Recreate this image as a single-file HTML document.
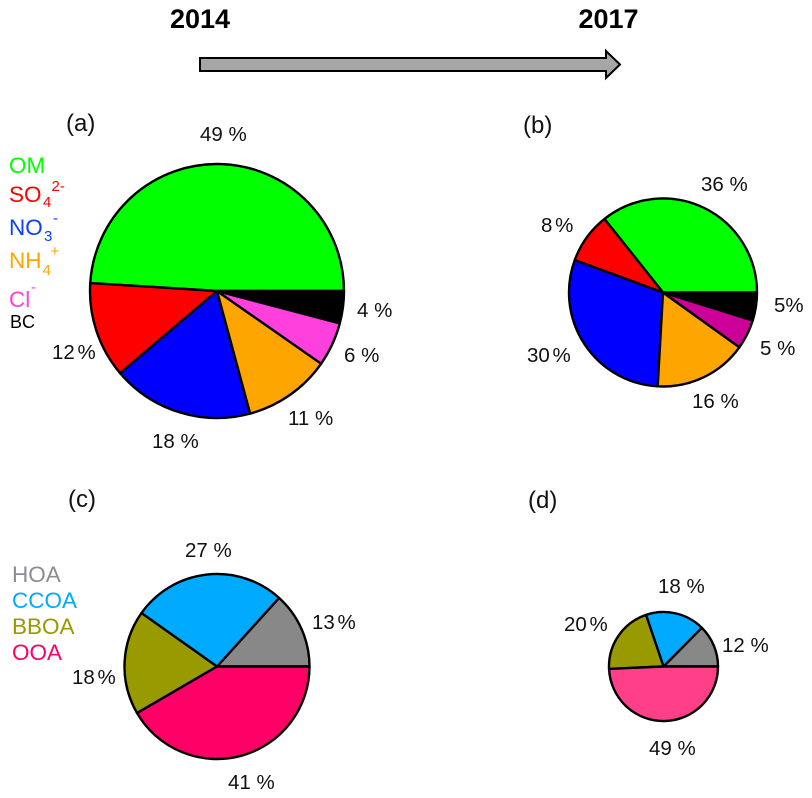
<!DOCTYPE html>
<html lang="en">
<head>
<meta charset="utf-8">
<title>Aerosol composition pie charts, 2014 to 2017</title>
<style>
  html, body { margin: 0; padding: 0; background: #fff; }
  svg { display: block; }
  text { font-family: "Liberation Sans", Arial, sans-serif; fill: #111; }
  .pct { font-size: 20.5px; }
  .tight { word-spacing: -3px; }
  .panel { font-size: 24px; }
  .year { font-size: 27px; font-weight: bold; fill: #000; }
  .lg { font-size: 22.5px; }
  .lgs { font-size: 15px; }
</style>
</head>
<body>
<svg id="chart" width="812" height="798" viewBox="0 0 812 798" xmlns="http://www.w3.org/2000/svg">
  <rect width="812" height="798" fill="#fff"/>

  <text class="year" x="170" y="28">2014</text>
  <text class="year" x="578.5" y="28">2017</text>
  <polygon points="200,58 606,58 606,51 620,64.5 606,78 606,71 200,71" fill="#a6a6a6" stroke="#000" stroke-width="2"/>

  <g id="pies"></g>

  <text class="panel" x="66" y="131">(a)</text>
  <text class="panel" x="523" y="133">(b)</text>
  <text class="panel" x="68" y="507">(c)</text>
  <text class="panel" x="528" y="508">(d)</text>

  <g>
    <text class="lg" x="9" y="173" style="fill:#00ff00">OM</text>
    <g>
      <text class="lg" x="9" y="202" style="fill:#ff0000">SO</text>
      <text class="lgs" x="43" y="207" style="fill:#ff0000">4</text>
      <text class="lgs" x="51.5" y="191" style="fill:#ff0000">2-</text>
    </g>
    <g>
      <text class="lg" x="9" y="235" style="fill:#0a40ff">NO</text>
      <text class="lgs" x="44" y="241" style="fill:#0a40ff">3</text>
      <text class="lgs" x="53" y="223" style="fill:#0a40ff">-</text>
    </g>
    <g>
      <text class="lg" x="9" y="268" style="fill:#ffa500">NH</text>
      <text class="lgs" x="42.5" y="275" style="fill:#ffa500">4</text>
      <text class="lgs" x="50.5" y="256" style="fill:#ffa500">+</text>
    </g>
    <g>
      <text class="lg" x="9" y="307" style="fill:#ff40dd">Cl</text>
      <text class="lgs" x="31" y="292" style="fill:#ff40dd">-</text>
    </g>
    <text x="10" y="328" style="font-size:18px;fill:#000">BC</text>
  </g>

  <g>
    <text class="lg" x="12" y="582" style="fill:#8c8c94">HOA</text>
    <text class="lg" x="12" y="608" style="fill:#00aaff">CCOA</text>
    <text class="lg" x="12" y="634" style="fill:#999900">BBOA</text>
    <text class="lg" x="12" y="660" style="fill:#ff0066">OOA</text>
  </g>

  <g>
    <text class="pct" x="200" y="141">49 %</text>
    <text class="pct" x="357" y="317">4 %</text>
    <text class="pct" x="344" y="362">6 %</text>
    <text class="pct" x="288" y="425">11 %</text>
    <text class="pct" x="152" y="448">18 %</text>
    <text class="pct tight" x="52" y="359">12 %</text>
  </g>
  <g>
    <text class="pct" x="701" y="191">36 %</text>
    <text class="pct tight" x="541" y="232">8 %</text>
    <text class="pct" x="774" y="312">5%</text>
    <text class="pct" x="760" y="355">5 %</text>
    <text class="pct" x="692" y="408">16 %</text>
    <text class="pct tight" x="527" y="362">30 %</text>
  </g>
  <g>
    <text class="pct" x="185" y="557">27 %</text>
    <text class="pct tight" x="312" y="629">13 %</text>
    <text class="pct tight" x="72" y="684">18 %</text>
    <text class="pct" x="228" y="789">41 %</text>
  </g>
  <g>
    <text class="pct" x="658" y="593">18 %</text>
    <text class="pct tight" x="564" y="631">20 %</text>
    <text class="pct" x="722" y="652">12 %</text>
    <text class="pct" x="649" y="755">49 %</text>
  </g>
</svg>

<script>
// Series values (percent), anticlockwise from due east.
const inorganicCategories = ['om', 'so4', 'no3', 'nh4', 'cl', 'bc'];
const organicCategories = ['hoa', 'ccoa', 'bboa', 'ooa'];
const valuesA = [49, 12.2, 18, 11.1, 5.6, 4.1];
const valuesB = [35.7, 8.7, 29.7, 16, 5.1, 4.8];
const valuesC = [13.3, 26.9, 18.2, 41.6];
const valuesD = [12.6, 17.6, 20.5, 49.3];

function angleScale(values) {
  const total = values.reduce(function (a, b) { return a + b; }, 0);
  return function (v) { return v / total * 2 * Math.PI; };
}
function polar(p, angle) {
  return [p.cx + p.r * Math.cos(angle), p.cy - p.r * Math.sin(angle)];
}
function slicePath(p, a0, a1) {
  const s = polar(p, a0), e = polar(p, a1);
  const large = (a1 - a0) > Math.PI ? 1 : 0;
  return 'M' + p.cx + ' ' + p.cy + 'L' + s[0].toFixed(2) + ' ' + s[1].toFixed(2) +
         'A' + p.r + ' ' + p.r + ' 0 ' + large + ' 0 ' + e[0].toFixed(2) + ' ' + e[1].toFixed(2) + 'Z';
}

const SVG_NS = 'http://www.w3.org/2000/svg';
const piesGroup = document.getElementById('pies');

function drawPie(p) {
  const g = document.createElementNS(SVG_NS, 'g');
  
  
  const scale = angleScale(p.values);
  let start = 0;
  p.values.forEach(function (v, i) {
    const end = start + scale(v);
    const path = document.createElementNS(SVG_NS, 'path');
    path.setAttribute('d', slicePath(p, start, end));
    path.setAttribute('fill', p.colors[i]);
    path.setAttribute('stroke', '#000');
    path.setAttribute('stroke-width', '2.4');
    path.setAttribute('stroke-linejoin', 'round');
    
    
    g.appendChild(path);
    start = end;
  });
  piesGroup.appendChild(g);
}

drawPie({ id: 'a', cx: 217, cy: 291, r: 127, values: valuesA, categories: inorganicCategories,
          colors: ['#00ff00', '#ff0000', '#0000ff', '#ffa500', '#ff40dd', '#000000'] });
drawPie({ id: 'b', cx: 663, cy: 292.5, r: 94, values: valuesB, categories: inorganicCategories,
          colors: ['#00ff00', '#ff0000', '#0000ff', '#ffa500', '#cc0099', '#000000'] });
drawPie({ id: 'c', cx: 217, cy: 666.5, r: 92.5, values: valuesC, categories: organicCategories,
          colors: ['#888888', '#00aaff', '#999900', '#ff0066'] });
drawPie({ id: 'd', cx: 663.5, cy: 666.5, r: 54.5, values: valuesD, categories: organicCategories,
          colors: ['#888888', '#00aaff', '#999900', '#ff4088'] });
</script>
</body>
</html>
